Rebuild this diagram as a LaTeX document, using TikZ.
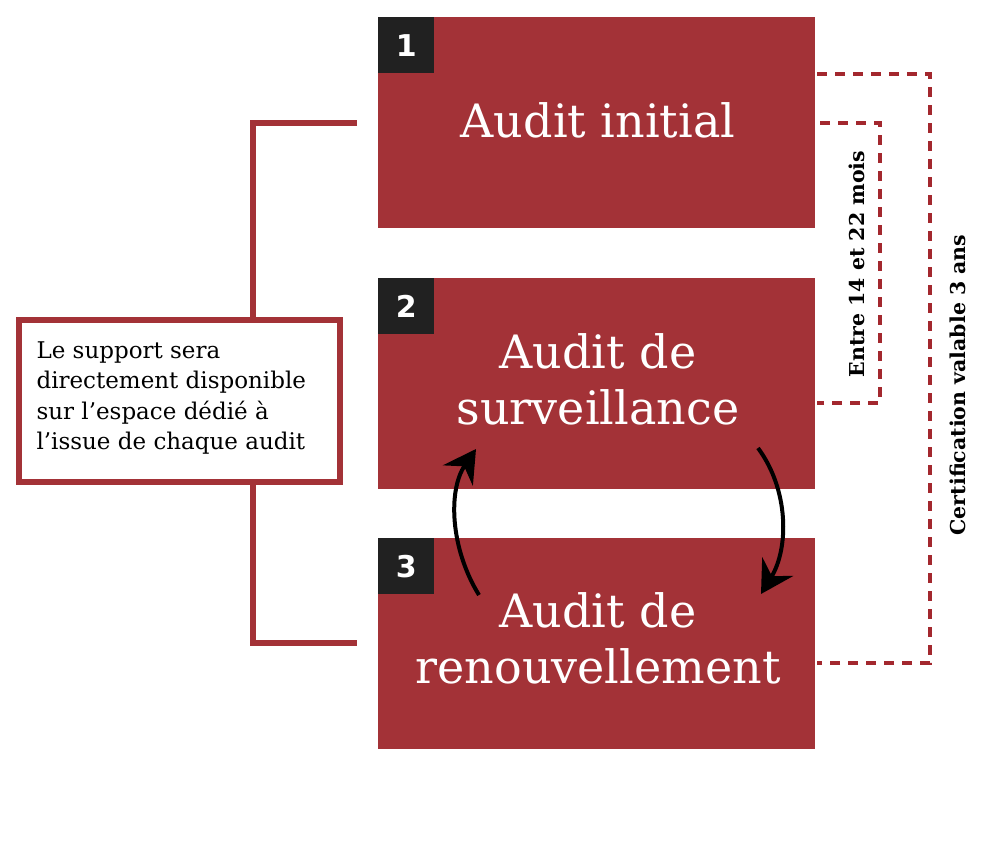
\documentclass[tikz,border=0pt]{standalone}
\usepackage{fontspec}
\setmainfont{DejaVu Serif}
\newfontfamily\badgefont{DejaVu Sans}
\usetikzlibrary{arrows.meta}
\definecolor{brick}{HTML}{A33237}
\definecolor{dashred}{HTML}{A3282E}
\definecolor{badgegray}{HTML}{212121}
\begin{document}
\begin{tikzpicture}[x=1pt,y=-1pt,
  stage/.style={fill=brick, minimum width=437pt, minimum height=211pt, inner sep=0pt, anchor=north west},
  stagetext/.style={text=white, font=\fontsize{46}{56}\selectfont, align=center},
  badgebox/.style={fill=badgegray, minimum width=56pt, minimum height=56pt, inner sep=0pt, anchor=north west, text=white, font=\badgefont\bfseries\fontsize{30}{30}\selectfont},
  bracket/.style={draw=brick, line width=6pt},
  dashline/.style={draw=dashred, line width=3.5pt, dash pattern=on 10pt off 8pt},
  loop/.style={draw=black, line width=4pt, -{Stealth[length=32pt,width=36pt,inset=11pt]}},
  vlabel/.style={rotate=90, font=\bfseries\fontsize{20.5}{20.5}\selectfont, text=black}
]
\useasboundingbox (0,0) rectangle (982,854);
% stages
\node[stage] (b1) at (378,17) {};
\node[stage] (b2) at (378,278) {};
\node[stage] (b3) at (378,538) {};
\node[stagetext] (t1) at (598,120) {Audit initial};
\node[stagetext] (t2) at (598,379) {Audit de\\surveillance};
\node[stagetext] (t3) at (598,638) {Audit de\\renouvellement};
\node[badgebox] (n1) at (378,17) {1};
\node[badgebox] (n2) at (378,278) {2};
\node[badgebox] (n3) at (378,538) {3};
% left bracket
\coordinate (bt) at (357,123);
\coordinate (bb) at (357,643);
\draw[bracket] (bt) -- (253,123) -- (253,643) -- (bb);
\node[draw=brick, line width=6pt, fill=white, minimum width=321pt, minimum height=162pt, inner sep=0pt] (note) at (179.5,401) {};
\node[anchor=west, align=left, font=\fontsize{23}{30.5}\selectfont, text=black] (notetext) at (33,398) {Le support sera\\directement disponible\\sur l’espace dédié à\\l’issue de chaque audit};
% dashed durations
\coordinate (o1) at (817,74);
\coordinate (o2) at (817,663);
\draw[dashline] (o1) -- (930,74) -- (930,663) -- (o2);
\coordinate (i1) at (820,123);
\coordinate (i2) at (817,403);
\draw[dashline] (i1) -- (880,123) -- (880,403) -- (i2);
\node[vlabel] (l1) at (857,264) {Entre 14 et 22 mois};
\node[vlabel] (l2) at (958,385) {Certification valable 3 ans};
% loop arrows
\coordinate (a1s) at (479,595);
\coordinate (a1e) at (476,449);
\coordinate (a2s) at (758,448);
\coordinate (a2e) at (761,594);
\draw[loop] (a1s) .. controls (450,548) and (448,490) .. (a1e);
\draw[loop] (a2s) .. controls (789,490) and (789,548) .. (a2e);
\end{tikzpicture}
\end{document}
